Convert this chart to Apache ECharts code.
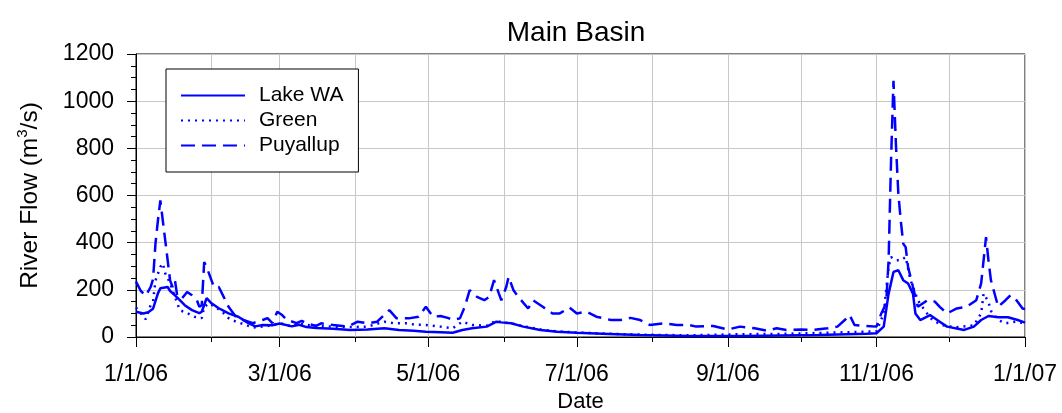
<!DOCTYPE html>
<html><head><meta charset="utf-8">
<script src="https://cdn.jsdelivr.net/npm/echarts@6/dist/echarts.min.js"></script>
<style>html,body{margin:0;padding:0;background:#fff}#c{width:1062px;height:413px}</style>
</head><body><div id="c"></div>
<script>
// ---- data (day offsets from 1/1/06, flow in m3/s) ----
const lakeDays = [0,3,5,7,9,10,13,14,16,18,20,23,26,27,29,31,34,38,42,46,49,52,56,59,64,67,70,74,81,88,95,102,108,114,119,125,130,134,138,144,148,150,154,159,166,173,181,194,207,227,250,280,300,304,307,309,311,313,315,317,319,320,322,326,330,333,340,344,347,350,354,358,362,365];
const lakeFlow = [107,100,105,120,185,207,212,195,177,156,135,114,101,107,165,143,122,100,86,60,45,51,50,57,45,52,42,38,35,30,32,37,30,27,22,20,18,30,37,44,65,62,58,44,30,22,18,13,8,4,4,8,14,16,44,184,276,283,241,227,184,100,72,93,65,44,30,44,72,89,84,84,72,61];

const greenDays = [0,2,4,6,7,8,10,11,12,14,16,18,21,24,27,28,30,33,36,38,41,44,48,52,56,59,64,67,72,81,88,95,102,106,111,115,119,125,130,134,138,144,148,150,154,159,166,173,181,194,207,227,250,265,280,295,304,307,309,310,312,314,316,318,321,324,327,331,336,344,347,348,350,351,354,357,361,365];
const greenFlow = [125,100,75,135,150,240,297,312,270,228,170,114,101,86,80,128,143,125,101,80,65,55,40,44,50,59,44,58,48,44,42,44,65,58,58,52,51,44,37,65,51,48,70,62,58,46,32,24,19,14,10,7,12,13,17,21,24,100,297,339,325,325,339,241,156,110,72,50,41,49,100,184,149,111,72,58,65,58];

const puyDays = [0,2,4,6,7,8,9,10,11,12,13,14,15,16,17,19,21,23,25,26,27,28,29,31,32,34,36,38,41,44,48,52,54,56,58,60,62,66,68,71,74,76,81,87,91,95,99,104,107,112,116,119,122,125,128,130,133,135,137,140,143,145,147,149,150,152,153,155,157,161,163,167,171,174,178,181,185,189,195,199,203,207,211,217,222,227,230,237,243,248,254,259,263,267,273,278,284,288,291,293,295,299,304,306,308,309,310,311,312,313,314,315,316,317,319,321,325,328,330,333,337,341,345,347,349,350,351,354,357,359,361,364,365];
const puyFlow = [235,195,175,212,245,397,494,579,494,410,325,240,212,240,170,165,191,177,156,128,135,318,297,240,212,212,170,128,86,72,59,72,80,59,107,93,72,59,68,55,47,58,51,44,65,58,65,114,79,79,86,128,86,89,81,72,79,128,199,170,156,170,241,184,156,212,255,198,170,121,156,128,100,100,125,100,107,86,72,72,81,72,51,58,51,51,44,47,32,44,37,27,37,30,32,30,37,44,72,93,51,47,44,100,143,325,748,1086,818,607,494,396,381,297,212,128,156,150,128,100,121,128,156,227,424,325,241,128,156,177,163,121,118];

const monthStarts = ['2006-01-01','2006-02-01','2006-03-01','2006-04-01','2006-05-01','2006-06-01','2006-07-01','2006-08-01','2006-09-01','2006-10-01','2006-11-01','2006-12-01','2007-01-01'];
const labelDates = ['2006-01-01','2006-03-01','2006-05-01','2006-07-01','2006-09-01','2006-11-01','2007-01-01'];
const tickLabels = ['1/1/06','3/1/06','5/1/06','7/1/06','9/1/06','11/1/06','1/1/07'];
const seriesNames = ['Lake WA','Green','Puyallup'];

// ---- helpers ----
const DAY = 86400000;
const toTime = s => { const p = s.split('-').map(Number); return Date.UTC(p[0], p[1]-1, p[2]); };
const dayTime = d => Date.UTC(2006, 0, 1) + d * DAY;
const pairs = (days, vals) => days.map((d, i) => [dayTime(d), vals[i]]);
const monthTimes = monthStarts.map(toTime);
const labelTimes = labelDates.map(toTime);
const xMin = monthTimes[0], xMax = monthTimes[monthTimes.length - 1];
const FONT = 'Liberation Sans, Arial, sans-serif';

const chart = echarts.init(document.getElementById('c'), null, {renderer: 'canvas'});
chart.setOption({
  animation: false,
  backgroundColor: '#fff',
  title: {
    text: 'Main Basin', left: 571, top: 14, textAlign: 'center',
    textStyle: {fontFamily: FONT, fontSize: 28, fontWeight: 'normal', color: '#000'}
  },
  legend: {
    orient: 'vertical', left: 166, top: 69,
    data: seriesNames,
    itemWidth: 64, itemHeight: 14, itemGap: 4,
    padding: [16, 15, 16, 14],
    borderColor: '#000', borderWidth: 1, backgroundColor: '#fff',
    itemStyle: {opacity: 0},
    textStyle: {fontFamily: FONT, fontSize: 21, color: '#000', lineHeight: 21, padding: [0,0,0,9]}
  },
  grid: {left: 136, right: 37, top: 54, bottom: 76, show: true, borderColor: '#000', borderWidth: 1, outerBoundsMode: 'none', containLabel: false},
  xAxis: [{
    type: 'value', min: xMin, max: xMax, scale: true,
    name: 'Date', nameLocation: 'middle', nameGap: 50,
    nameTextStyle: {fontFamily: FONT, fontSize: 22, color: '#000'},
    axisLine: {show: true, lineStyle: {color: '#000', width: 1}},
    axisTick: {show: true, inside: false, length: 5, customValues: monthTimes, lineStyle: {color: '#000'}},
    axisLabel: {
      show: true, margin: 26, customValues: labelTimes, hideOverlap: false,
      fontFamily: FONT, fontSize: 23, color: '#000',
      formatter: v => { const i = labelTimes.indexOf(v); return i >= 0 ? tickLabels[i] : ''; }
    },
    splitLine: {show: true, lineStyle: {color: '#c8c8c8', width: 1}}
  }, {
    type: 'value', min: xMin, max: xMax, scale: true, position: 'bottom', offset: 0,
    axisLine: {show: false},
    axisTick: {show: true, inside: false, length: 10, customValues: labelTimes, lineStyle: {color: '#000'}},
    axisLabel: {show: false},
    splitLine: {show: false}
  }],
  yAxis: {
    type: 'value', min: 0, max: 1200, interval: 200,
    name: '{a|River Flow (m}{s|3}{a|/s)}', nameLocation: 'middle', nameGap: 93,
    nameTextStyle: {
      color: '#000',
      rich: {
        a: {fontFamily: FONT, fontSize: 24.5, color: '#000', lineHeight: 28, verticalAlign: 'bottom'},
        s: {fontFamily: FONT, fontSize: 15, color: '#000', lineHeight: 28, verticalAlign: 'top'}
      }
    },
    axisLine: {show: true, lineStyle: {color: '#000', width: 1}},
    axisTick: {show: true, inside: false, length: 9, lineStyle: {color: '#000'}},
    minorTick: {show: true, splitNumber: 4, length: 5, lineStyle: {color: '#000'}},
    axisLabel: {margin: 22, fontFamily: FONT, fontSize: 23, color: '#000', formatter: v => String(v)},
    splitLine: {show: true, lineStyle: {color: '#c8c8c8', width: 1}},
    minorSplitLine: {show: false}
  },
  series: [
    {name: seriesNames[0], type: 'line', xAxisIndex: 0, data: pairs(lakeDays, lakeFlow), symbol: 'none', color: '#0000ff',
     lineStyle: {color: '#0000ff', width: 2.5, type: 'solid'}},
    {name: seriesNames[1], type: 'line', xAxisIndex: 0, data: pairs(greenDays, greenFlow), symbol: 'none', color: '#0000ff',
     lineStyle: {color: '#0000ff', width: 2.5, type: [2, 5]}},
    {name: seriesNames[2], type: 'line', xAxisIndex: 0, data: pairs(puyDays, puyFlow), symbol: 'none', color: '#0000ff',
     lineStyle: {color: '#0000ff', width: 2.5, type: [14, 7]}}
  ]
});
</script></body></html>
